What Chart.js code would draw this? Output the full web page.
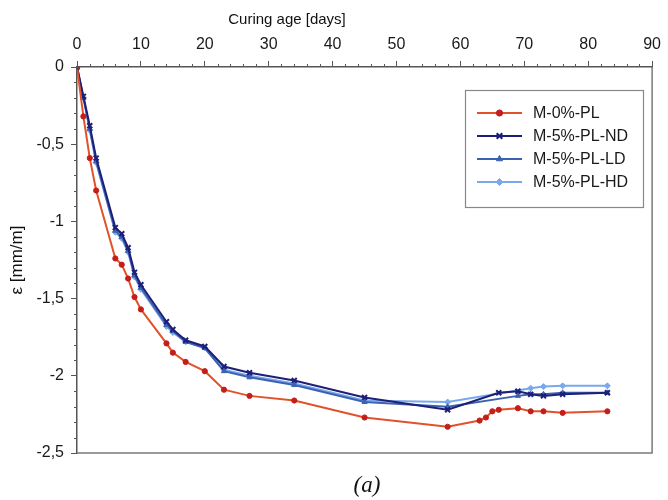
<!DOCTYPE html>
<html>
<head>
<meta charset="utf-8">
<script src="https://cdn.jsdelivr.net/npm/chart.js@4/dist/chart.umd.min.js"></script>
<style>
  html, body { margin: 0; padding: 0; background: #ffffff; }
  #wrap { position: relative; width: 668px; height: 500px; }
  #caption { position: absolute; left: 317px; top: 472px; width: 100px; text-align: center;
    font-family: "Liberation Serif", "DejaVu Serif", serif; font-style: italic; font-size: 23px; line-height: 26px; color: #111; }
</style>
</head>
<body>
<div id="wrap">
  <canvas id="c" width="668" height="500"></canvas>
  <div id="caption">(a)</div>
</div>
<script>
// ---- data ----
const seriesNames = ["M-0%-PL", "M-5%-PL-ND", "M-5%-PL-LD", "M-5%-PL-HD"];
const daysPL0 = [0,1,2,3,6,7,8,9,10,14,15,17,20,23,27,34,45,58,63,64,65,66,69,71,73,76,83];
const strainPL0 = [0,-0.32,-0.59,-0.80,-1.24,-1.28,-1.37,-1.49,-1.57,-1.79,-1.85,-1.91,-1.97,-2.09,-2.13,-2.16,-2.27,-2.33,-2.29,-2.27,-2.23,-2.22,-2.21,-2.23,-2.23,-2.24,-2.23];
const daysND = [0,1,2,3,6,7,8,9,10,14,15,17,20,23,27,34,45,58,66,69,71,73,76,83];
const strainND = [0,-0.19,-0.38,-0.59,-1.04,-1.08,-1.17,-1.33,-1.41,-1.65,-1.70,-1.77,-1.81,-1.94,-1.98,-2.03,-2.14,-2.22,-2.11,-2.10,-2.12,-2.13,-2.12,-2.11];
const daysLD = [0,1,2,3,6,7,8,9,10,14,15,17,20,23,27,34,45,58,69,71,73,76,83];
const strainLD = [0,-0.20,-0.40,-0.61,-1.06,-1.10,-1.19,-1.35,-1.43,-1.67,-1.71,-1.78,-1.82,-1.97,-2.01,-2.06,-2.17,-2.20,-2.13,-2.12,-2.12,-2.11,-2.11];
const daysHD = [0,1,2,3,6,7,8,9,10,14,15,17,20,23,27,34,45,58,71,73,76,83];
const strainHD = [0,-0.20,-0.41,-0.62,-1.07,-1.11,-1.20,-1.36,-1.44,-1.68,-1.72,-1.78,-1.82,-1.96,-2.00,-2.05,-2.16,-2.17,-2.08,-2.07,-2.065,-2.065];
const xTickStep = 10, xMin = 0, xMax = 90;
const yTickStep = 0.5, yMin = -2.5, yMax = 0;

function pts(xs, ys) { return xs.map((x, i) => ({ x: x, y: ys[i] })); }

const styles = [
  { line: "#e2522a", point: "#c41e1a", shape: "circle", r: 2.6, bw: 1 },
  { line: "#1d1f78", point: "#1d1f78", shape: "crossRot", r: 3.5, bw: 2 },
  { line: "#3b62b0", point: "#3b62b0", shape: "triangle", r: 3, bw: 1 },
  { line: "#79a9ec", point: "#79a9ec", shape: "rectRot", r: 3, bw: 1 }
];
const dataSets = [pts(daysPL0, strainPL0), pts(daysND, strainND), pts(daysLD, strainLD), pts(daysHD, strainHD)];

const datasets = dataSets.map((d, i) => ({
  label: seriesNames[i],
  data: d,
  borderColor: styles[i].line,
  backgroundColor: styles[i].point,
  pointBorderColor: styles[i].point,
  pointBackgroundColor: styles[i].point,
  pointStyle: styles[i].shape,
  pointRadius: styles[i].r,
  pointBorderWidth: styles[i].bw,
  borderWidth: 2,
  tension: 0,
  fill: false
}));

const FONT = "'Liberation Sans', Arial, sans-serif";

const decorPlugin = {
  id: 'decor',
  afterDraw(chart) {
    const { ctx, chartArea: a, scales: { x, y } } = chart;
    ctx.save();
    // right and bottom frame
    ctx.strokeStyle = '#7a7a7a';
    ctx.lineWidth = 1.5;
    ctx.beginPath();
    ctx.moveTo(a.left, a.bottom); ctx.lineTo(a.right, a.bottom); ctx.lineTo(a.right, a.top);
    ctx.stroke();
    // minor ticks
    ctx.strokeStyle = '#555';
    ctx.lineWidth = 1;
    ctx.beginPath();
    for (let v = xMin; v <= xMax + 1e-9; v += 2) {
      if (Math.abs(v % xTickStep) < 1e-9) continue;
      const px = Math.round(x.getPixelForValue(v)) + 0.5;
      ctx.moveTo(px, a.top); ctx.lineTo(px, a.top - 3);
    }
    for (let k = 0; k <= 25; k++) {
      const v = -k / 10;
      if (k % 5 === 0) continue;
      const py = Math.round(y.getPixelForValue(v)) + 0.5;
      ctx.moveTo(a.left, py); ctx.lineTo(a.left - 3, py);
    }
    ctx.stroke();
    // x axis title
    ctx.fillStyle = '#111';
    ctx.font = "15px " + FONT;
    ctx.textAlign = 'center';
    ctx.textBaseline = 'middle';
    ctx.fillText('Curing age [days]', 287, 20);
    // legend
    const bx = 465, by = 90, bw = 178, bh = 117;
    ctx.fillStyle = '#fff';
    ctx.fillRect(bx, by, bw, bh);
    ctx.strokeStyle = '#888';
    ctx.lineWidth = 1.2;
    ctx.strokeRect(bx + 0.5, by + 0.5, bw, bh);
    chart.data.datasets.forEach((ds, i) => {
      const ry = 113 + i * 23;
      ctx.strokeStyle = ds.borderColor;
      ctx.lineWidth = 2;
      ctx.beginPath(); ctx.moveTo(477, ry); ctx.lineTo(522, ry); ctx.stroke();
      ctx.fillStyle = ds.pointBackgroundColor;
      ctx.strokeStyle = ds.pointBorderColor;
      ctx.lineWidth = ds.pointBorderWidth;
      Chart.helpers.drawPoint(ctx, { pointStyle: ds.pointStyle, radius: ds.pointRadius + 0.5, borderWidth: ds.pointBorderWidth, rotation: 0 }, 499.5, ry);
      ctx.fillStyle = '#1a1a1a';
      ctx.font = "16px " + FONT;
      ctx.textAlign = 'left';
      ctx.textBaseline = 'middle';
      ctx.fillText(ds.label, 533, ry + 1);
    });
    ctx.restore();
  }
};

new Chart(document.getElementById('c'), {
  type: 'line',
  data: { datasets: datasets },
  options: {
    responsive: false,
    animation: false,
    layout: { padding: { left: 0, top: 0, right: 10, bottom: 47 } },
    plugins: { legend: { display: false }, tooltip: { enabled: false } },
    scales: {
      x: {
        type: 'linear',
        position: 'top',
        min: xMin, max: xMax,
        afterFit(s) { s.height = 67; },
        ticks: { stepSize: xTickStep, color: '#1a1a1a', font: { size: 16, family: FONT }, padding: 7, maxRotation: 0 },
        grid: { display: true, drawOnChartArea: false, drawTicks: true, tickLength: 6, tickColor: '#555', tickWidth: 1 },
        border: { display: true, color: '#555', width: 1.5 },
        title: { display: false }
      },
      y: {
        type: 'linear',
        min: yMin, max: yMax,
        afterFit(s) { s.width = 77; },
        ticks: {
          stepSize: yTickStep, color: '#1a1a1a', font: { size: 16, family: FONT }, padding: 7,
          callback: (v) => String(Math.round(v * 10) / 10).replace('.', ',')
        },
        grid: { display: true, drawOnChartArea: false, drawTicks: true, tickLength: 6, tickColor: '#555', tickWidth: 1 },
        border: { display: true, color: '#555', width: 1.5 },
        title: { display: true, text: 'ε [mm/m]', color: '#111', font: { size: 17, family: FONT }, padding: { top: 7, bottom: 0 } }
      }
    }
  },
  plugins: [decorPlugin]
});
</script>
</body>
</html>
